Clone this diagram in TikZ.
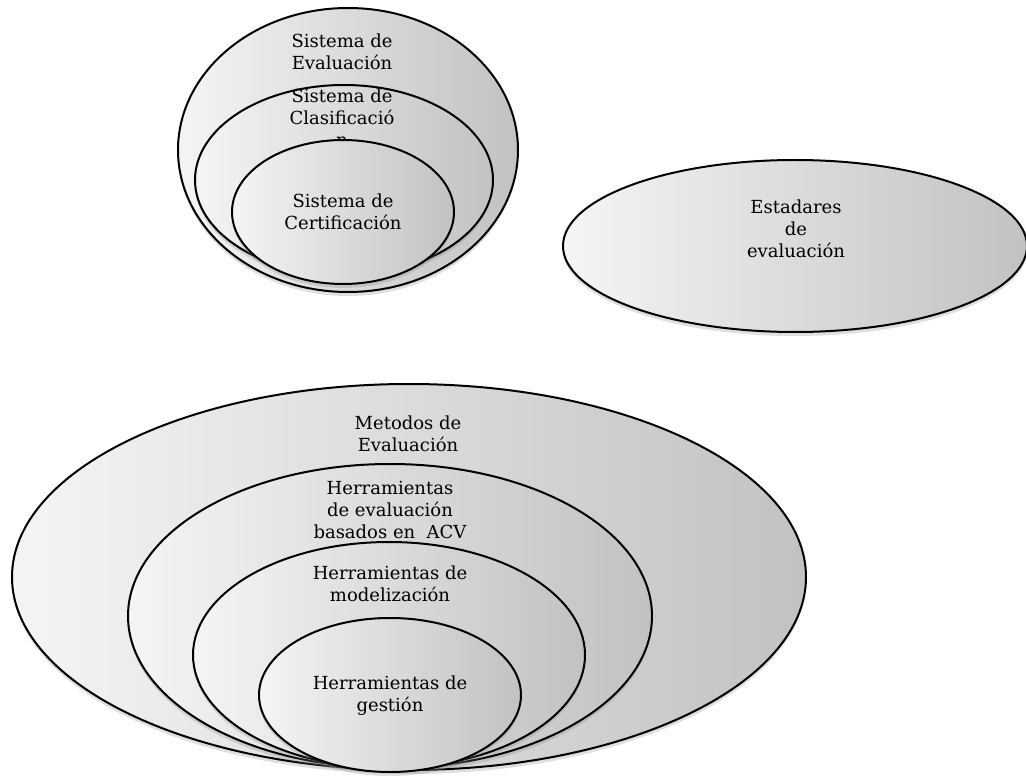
\documentclass[tikz,border=0pt]{standalone}
\usepackage{fontspec}
\setmainfont{DejaVu Serif}
\usetikzlibrary{positioning,shapes.geometric,shadows}

\begin{document}
\begin{tikzpicture}[x=1pt,y=-1pt,
  ring/.style={ellipse,draw=black,line width=2pt,inner sep=0pt,
    left color=black!4,right color=black!24,
    drop shadow={shadow xshift=0pt,shadow yshift=-4pt,opacity=0.25}},
  lbl/.style={align=center,font=\fontsize{18}{22}\selectfont}]
\useasboundingbox (0,0) rectangle (1026,778);
% upper nested group
\node[ring,minimum width=340pt,minimum height=284pt] (eval) at (348,150) {};
\node[lbl] (evaltxt) at (342,52) {Sistema de\\Evaluación};
\node[ring,minimum width=298pt,minimum height=190pt] (clas) at (344,180) {};
\node[lbl] (clastxt) at (342,118) {Sistema de\\Clasificació\\n};
\node[ring,minimum width=222pt,minimum height=144pt] (cert) at (343,212) {};
\node[lbl] (certtxt) at (343,212) {Sistema de\\Certificación};
% standalone ellipse
\node[ring,minimum width=464pt,minimum height=172pt] (estand) at (795,246) {};
\node[lbl] (estandtxt) at (796,229) {Estadares\\de\\evaluación};
% lower nested group
\node[ring,minimum width=794pt,minimum height=386pt] (metodos) at (409,577) {};
\node[lbl] (metodostxt) at (408,434) {Metodos de\\Evaluación};
\node[ring,minimum width=524pt,minimum height=304pt] (acv) at (390,616) {};
\node[lbl] (acvtxt) at (390,510) {Herramientas\\de evaluación\\basados en\ \ ACV};
\node[ring,minimum width=392pt,minimum height=226pt] (model) at (389,655) {};
\node[lbl] (modeltxt) at (390,584) {Herramientas de\\modelización};
\node[ring,minimum width=262pt,minimum height=154pt] (gestion) at (390,695) {};
\node[lbl] (gestiontxt) at (390,696) {Herramientas de\\gestión};
\end{tikzpicture}
\end{document}
